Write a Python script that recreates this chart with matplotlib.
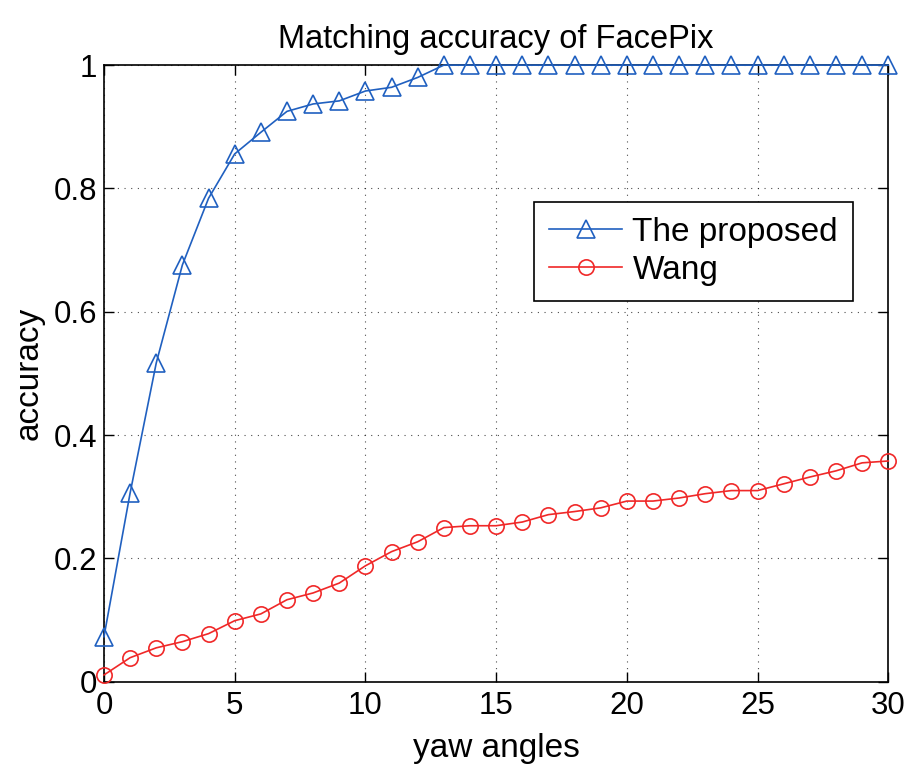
import numpy as np
import matplotlib.pyplot as plt

plt.rcParams['font.family'] = ['Liberation Sans', 'DejaVu Sans']

yaw = np.arange(0, 31)
proposed = [0.073, 0.306, 0.517, 0.676, 0.784, 0.856, 0.891, 0.925, 0.937, 0.942,
            0.958, 0.964, 0.980] + [1.0] * 18
wang = [0.011, 0.039, 0.055, 0.065, 0.078, 0.099, 0.110, 0.133, 0.144, 0.160,
        0.188, 0.211, 0.227, 0.250, 0.253, 0.253, 0.259, 0.271, 0.276, 0.282,
        0.293, 0.293, 0.298, 0.305, 0.310, 0.310, 0.321, 0.332, 0.342, 0.355,
        0.358]

fig = plt.figure(figsize=(9.12, 7.66), dpi=100)
ax = fig.add_axes([0.114, 0.110, 0.860, 0.805])

ax.plot(yaw, proposed, color='#2060c0', marker='^', markersize=13,
        markerfacecolor='none', markeredgewidth=1.2, linewidth=1.2,
        label='The proposed', clip_on=False, zorder=3)
ax.plot(yaw, wang, color='#f02828', marker='o', markersize=11,
        markerfacecolor='none', markeredgewidth=1.2, linewidth=1.2,
        label='Wang', clip_on=False, zorder=3)

ax.set_xlim(0, 30)
ax.set_ylim(0, 1)
ax.set_xticks(np.arange(0, 31, 5))
ax.set_yticks(np.arange(0, 1.01, 0.2))
ax.set_yticklabels(['0', '0.2', '0.4', '0.6', '0.8', '1'])
ax.tick_params(direction='in', length=7, width=1, labelsize=22.5,
               top=True, right=True, pad=5)
ax.tick_params(axis='x', pad=7)
ax.grid(True, linestyle=(0, (1, 5)), color='black', linewidth=0.8, alpha=0.7)
for s in ax.spines.values():
    s.set_linewidth(1.2)

ax.set_title('Matching accuracy of FacePix', fontsize=23.5, pad=12)
ax.set_xlabel('yaw angles', fontsize=24, labelpad=8)
ax.set_ylabel('accuracy', fontsize=24, labelpad=6)

leg = ax.legend(loc='upper right', bbox_to_anchor=(0.955, 0.778),
                borderaxespad=0, fontsize=24, fancybox=False,
                edgecolor='black', framealpha=1, handlelength=2.2,
                handletextpad=0.3, borderpad=0.45, labelspacing=0.2)
leg.get_frame().set_linewidth(1.2)

fig.savefig('out.png', dpi=100)
